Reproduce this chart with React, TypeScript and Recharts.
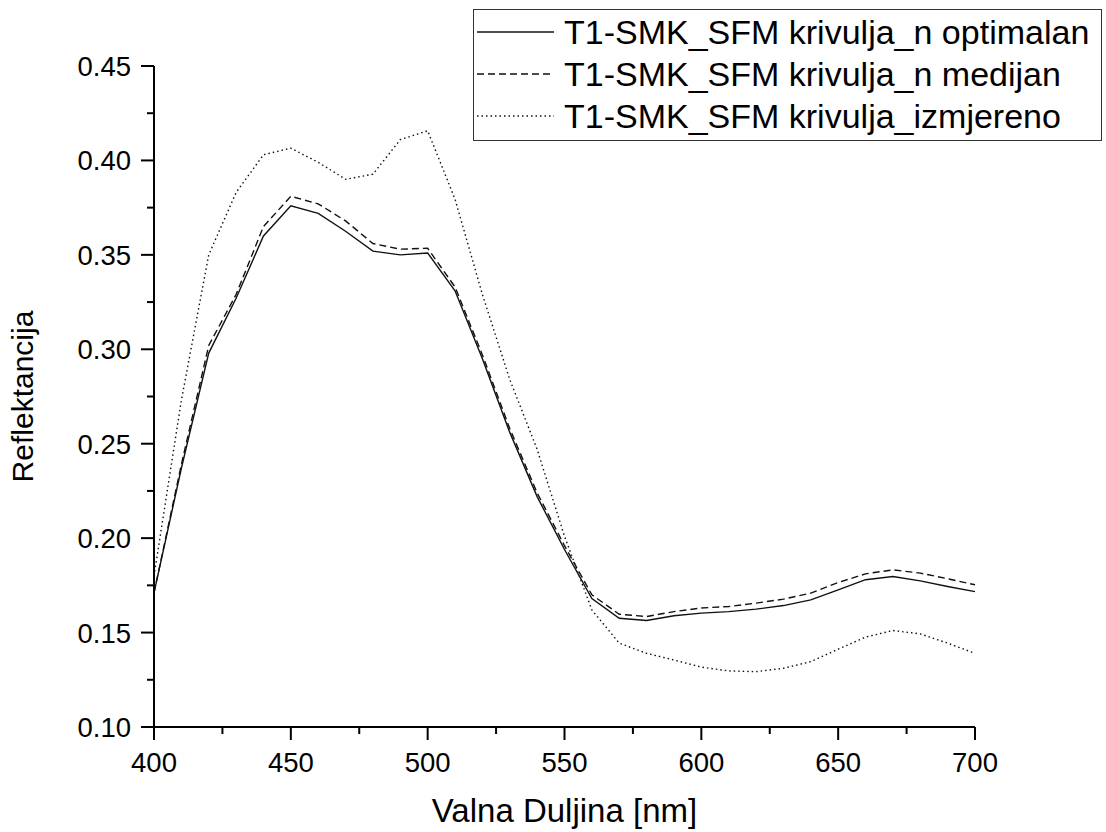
import React from 'react'
import { LineChart, Line, XAxis, YAxis } from 'recharts'

const wavelengths = [400, 410, 420, 430, 440, 450, 460, 470, 480, 490, 500, 510, 520, 530, 540, 550, 560, 570, 580, 590, 600, 610, 620, 630, 640, 650, 660, 670, 680, 690, 700]
const optimalan = [0.171, 0.237, 0.298, 0.327, 0.36, 0.376, 0.372, 0.3625, 0.352, 0.35, 0.351, 0.331, 0.295, 0.256, 0.222, 0.194, 0.168, 0.1576, 0.1564, 0.1589, 0.1603, 0.1611, 0.1624, 0.1643, 0.1673, 0.1726, 0.178, 0.1797, 0.1774, 0.1744, 0.1717]
const medijan = [0.171, 0.239, 0.302, 0.329, 0.365, 0.381, 0.377, 0.368, 0.356, 0.353, 0.3535, 0.333, 0.297, 0.258, 0.224, 0.196, 0.17, 0.1597, 0.1585, 0.1611, 0.163, 0.1638, 0.1656, 0.1677, 0.1709, 0.1765, 0.1811, 0.1832, 0.1815, 0.1785, 0.1753]
const izmjereno = [0.18, 0.273, 0.35, 0.383, 0.403, 0.4065, 0.399, 0.39, 0.3927, 0.411, 0.4157, 0.3795, 0.329, 0.284, 0.247, 0.201, 0.162, 0.1444, 0.139, 0.1355, 0.1317, 0.1297, 0.1293, 0.1311, 0.1346, 0.1412, 0.1476, 0.1511, 0.1493, 0.1444, 0.139]

const xTicks = [400, 425, 450, 475, 500, 525, 550, 575, 600, 625, 650, 675, 700]
const yTicks = [0.1, 0.125, 0.15, 0.175, 0.2, 0.225, 0.25, 0.275, 0.3, 0.325, 0.35, 0.375, 0.4, 0.425, 0.45]

const seriesNames = ['T1-SMK_SFM krivulja_n optimalan', 'T1-SMK_SFM krivulja_n medijan', 'T1-SMK_SFM krivulja_izmjereno']

const data = wavelengths.map((w, i) => ({ w, opt: optimalan[i], med: medijan[i], izm: izmjereno[i] }))

const font = 'Arial, "Liberation Sans", sans-serif'
const series = [
  { key: 'opt', dash: undefined as string | undefined },
  { key: 'med', dash: '7 4' },
  { key: 'izm', dash: '1.5 3' },
]

const isMajorX = (v: number) => v % 50 === 0
const isMajorY = (v: number) => Math.round(v * 1000) % 50 === 0

function XTick({ x, y, payload }: any) {
  const major = isMajorX(payload.value)
  return (
    <g>
      <line x1={x} x2={x} y1={y} y2={y + (major ? 13 : 7)} stroke="#000" strokeWidth={2} />
      {major && (
        <text x={x} y={y + 45} textAnchor="middle" fontFamily={font} fontSize={27.5} fill="#000">{payload.value}</text>
      )}
    </g>
  )
}

function YTick({ x, y, payload }: any) {
  const major = isMajorY(payload.value)
  return (
    <g>
      <line x1={x} x2={x - (major ? 13 : 7)} y1={y} y2={y} stroke="#000" strokeWidth={2} />
      {major && (
        <text x={x - 23} y={y + 10} textAnchor="end" fontFamily={font} fontSize={27.5} fill="#000">{payload.value.toFixed(2)}</text>
      )}
    </g>
  )
}

function LegendBox() {
  return (
    <div style={{ position: 'absolute', left: 473, top: 9, width: 624, border: '1.5px solid #333', background: '#fff', padding: '1px 0 3px 3px', fontFamily: font, fontSize: 34, lineHeight: '42px', color: '#000' }}>
      {seriesNames.map((name, i) => (
        <div key={name} style={{ display: 'flex', alignItems: 'center', whiteSpace: 'nowrap' }}>
          <svg width={77} height={10} style={{ marginRight: 10, flex: 'none' }}>
            <line x1={0} x2={77} y1={5} y2={5} stroke="#111" strokeWidth={1.3} strokeDasharray={series[i].dash} />
          </svg>
          <span>{name}</span>
        </div>
      ))}
    </div>
  )
}

export default function App() {
  return (
    <div style={{ position: 'absolute', left: 0, top: 0, width: 1106, height: 832, background: '#fff' }}>
      <LineChart width={1106} height={832} data={data} margin={{ top: 66, right: 131, bottom: 0, left: 0 }}>
        <XAxis
          dataKey="w"
          type="number"
          domain={[400, 700]}
          ticks={xTicks}
          interval={0}
          height={105}
          tickSize={0}
          tickMargin={0}
          tickLine={false}
          axisLine={{ stroke: '#000', strokeWidth: 2 }}
          tick={<XTick />}
          label={{ value: 'Valna Duljina [nm]', position: 'insideBottom', offset: 10, fontFamily: font, fontSize: 33, fill: '#000' }}
        />
        <YAxis
          type="number"
          domain={[0.1, 0.45]}
          ticks={yTicks}
          interval={0}
          allowDataOverflow
          width={154}
          tickSize={0}
          tickMargin={0}
          tickLine={false}
          axisLine={{ stroke: '#000', strokeWidth: 2 }}
          tick={<YTick />}
          label={{ value: 'Reflektancija', angle: -90, position: 'insideLeft', offset: 22, fontFamily: font, fontSize: 30, fill: '#000', style: { textAnchor: 'middle' } }}
        />
        {series.map(s => (
          <Line
            key={s.key}
            dataKey={s.key}
            type="linear"
            stroke="#111"
            strokeWidth={1.4}
            strokeDasharray={s.dash}
            dot={false}
            isAnimationActive={false}
          />
        ))}
      </LineChart>
      <LegendBox />
    </div>
  )
}
